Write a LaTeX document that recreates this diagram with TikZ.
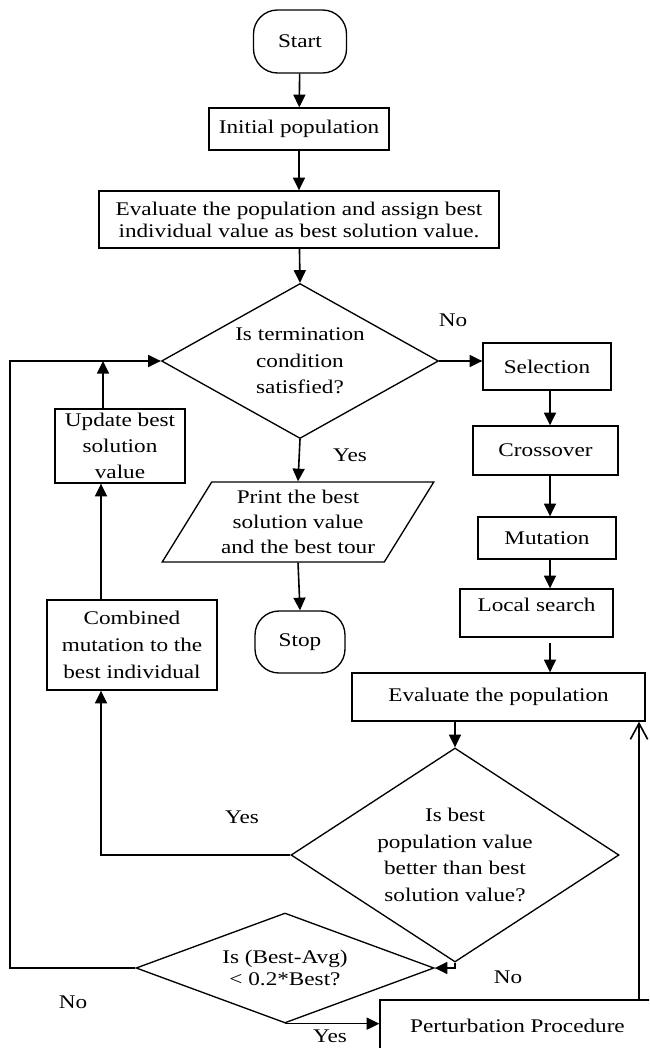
\documentclass[tikz,border=0pt]{standalone}
\usepackage{fontspec}
\setmainfont[FakeStretch=1.2]{Liberation Serif}
\usetikzlibrary{shapes.geometric,arrows.meta}

\begin{document}
\begin{tikzpicture}[x=0.75pt,y=-0.75pt,
  font=\fontsize{14.5}{19}\selectfont,
  box/.style={draw, line width=1pt, inner sep=2pt, align=center},
  term/.style={box, rounded corners=18pt},
  decision/.style={draw, diamond, line width=1pt, inner sep=0pt, align=center},
  arr/.style={line width=1.2pt, -{Triangle[length=9.5pt,width=9pt]}},
  openarr/.style={line width=1.2pt, -{Straight Barb[length=12pt,width=13pt]}}]
\useasboundingbox (0,0) rectangle (649,1048);
\clip (0,0) rectangle (649,1048);

\node[term, minimum width=69.75pt, minimum height=47.25pt] (start) at (300,41.5) {Start};
\node[box, minimum width=135pt, minimum height=31.5pt] (init) at (299,129) {Initial population};
\node[box, minimum width=300pt, minimum height=42.75pt, font=\fontsize{14.5}{16.5}\selectfont] (evalinit) at (299,219.5)
  {Evaluate the population and assign best\\individual value as best solution value.};
\node[decision, aspect=1.8, minimum width=207.75pt, minimum height=116.25pt, font=\fontsize{14.5}{20}\selectfont] (cond) at (300,361)
  {Is termination\\condition\\satisfied?};
\node[box, minimum width=96pt, minimum height=35.25pt] (selection) at (547,366.5) {Selection};
\node[box, minimum width=108.75pt, minimum height=36.75pt] (crossover) at (545.5,450.5) {Crossover};
\node[box, minimum width=103.5pt, minimum height=31.5pt] (mutation) at (547,538) {Mutation};
\node[box, minimum width=114.75pt, minimum height=36pt, text depth=12pt] (local) at (536.5,613) {Local search};
\node[box, minimum width=219.75pt, minimum height=36pt] (evalpop) at (498.5,697) {Evaluate the population};
\node[box, minimum width=97.5pt, minimum height=55.5pt, font=\fontsize{14.5}{19.5}\selectfont] (update) at (120,446)
  {Update best\\solution\\value};
\node[box, minimum width=127.5pt, minimum height=67.5pt, font=\fontsize{14.5}{20}\selectfont] (combined) at (132,645)
  {Combined\\mutation to the\\best individual};
\node[draw, trapezium, trapezium left angle=55.5, trapezium right angle=124.5, trapezium stretches=true,
  line width=1pt, inner sep=0pt, align=center, minimum width=204pt, minimum height=60pt] (print) at (298,522)
  {Print the best\\solution value\\and the best tour};
\node[term, minimum width=67.5pt, minimum height=46.5pt] (stop) at (300,642) {Stop};
\node[decision, aspect=1.53, minimum width=246pt, minimum height=160.5pt, font=\fontsize{14.5}{20}\selectfont] (cond2) at (455,855)
  {Is best\\population value\\better than best\\solution value?};
\node[decision, aspect=2.7, minimum width=223.5pt, minimum height=82.5pt, font=\fontsize{14.5}{16.5}\selectfont] (cond3) at (285,968)
  {Is (Best-Avg)\\< 0.2*Best?};
\node[box, minimum width=206.25pt, minimum height=39pt] (perturb) at (517.5,1026) {Perturbation Procedure};

\node (nocond) at (453,320) {No};
\node (yescond) at (350,455) {Yes};
\node (yescond2) at (242,817) {Yes};
\node (nocond2) at (508,977) {No};
\node (nocond3) at (73,1002) {No};
\node (yescond3) at (330,1036) {Yes};

\coordinate (rlane) at (550,0);
\coordinate (rline) at (639,0);
\coordinate (ycorner) at (101,855);
\coordinate (ljoin) at (103,361);
\coordinate (lloop) at (10,968);

\draw[arr] (start) -- (init);
\draw[arr] (init) -- (evalinit);
\draw[arr] (evalinit) -- (cond.north);
\draw[arr] (cond.east) -- (selection.west |- cond.east);
\draw[arr] (cond.south) -- (print.north);
\draw[arr] (print.south) -- (stop.north);
\draw[arr] (selection.south -| rlane) -- (crossover.north -| rlane);
\draw[arr] (crossover.south -| rlane) -- (mutation.north -| rlane);
\draw[arr] (mutation.south -| rlane) -- (local.north -| rlane);
\draw[arr] ([yshift=-4pt]local.south -| rlane) -- (evalpop.north -| rlane);
\draw[arr] (evalpop.south -| cond2.north) -- (cond2.north);
\draw[arr] (cond2.west) -- (ycorner) -- (combined.south -| ycorner);
\draw[arr] (combined.north -| ycorner) -- (update.south -| ycorner);
\draw[arr] (update.north -| ljoin) -- (ljoin);
\draw[arr] (cond3.west) -- (lloop) |- (cond.west);
\draw[arr] (cond2.south) |- (cond3.east);
\draw[arr] (cond3.south) -- (cond3.south -| perturb.west);
\draw[openarr] (perturb.north -| rline) -- (evalpop.south -| rline);
\end{tikzpicture}
\end{document}
